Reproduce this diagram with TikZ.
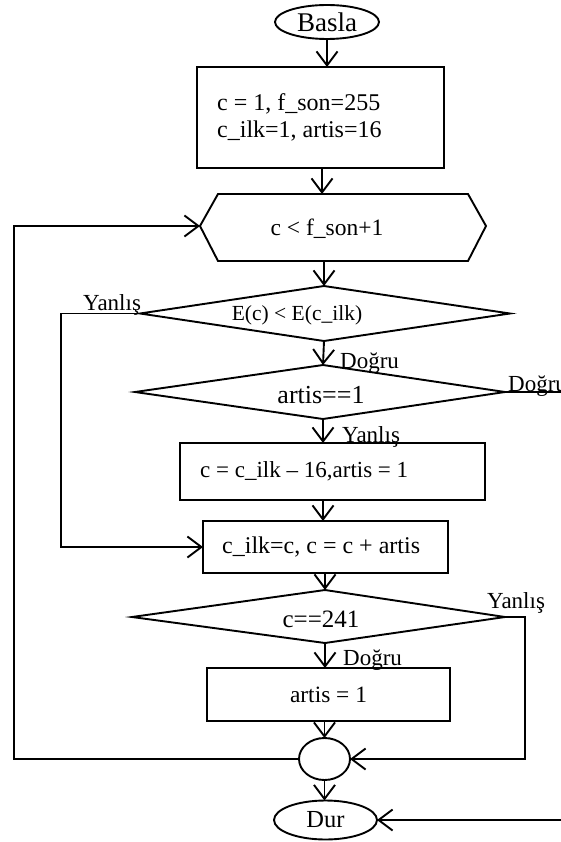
\documentclass[tikz,border=0pt]{standalone}
\usepackage{fontspec}
\setmainfont{Liberation Serif}
\usetikzlibrary{arrows.meta,shapes.geometric}
\begin{document}
\begin{tikzpicture}[x=1pt,y=-1pt,
  ln/.style={line width=1.9pt},
  arr/.style={ln,-{Straight Barb[length=14pt,width=21pt,line width=1.9pt]}},
  box/.style={draw,ln,rectangle,inner sep=0pt,outer sep=0pt},
  oval/.style={draw,ln,ellipse,inner sep=0pt,outer sep=0pt},
  txt/.style={inner sep=0pt},
  lbl/.style={inner sep=0pt,anchor=base west,font=\fontsize{23}{27}\selectfont},
  fs/.style={font=\fontsize{#1}{27}\selectfont}
]
\useasboundingbox (0,0) rectangle (561,842);

% start
\node[oval,minimum width=104pt,minimum height=34pt,fs=27] (start) at (327,22) {Basla};

% box 1
\node[box,minimum width=247pt,minimum height=101pt] (b1) at (320.5,117.5) {};
\node[txt,anchor=west,align=left,fs=24] (tb1) at ([xshift=20pt]b1.west)
  {c = 1, f\_son=255\\c\_ilk=1, artis=16};

% hexagon
\coordinate (hexW) at (200,226);
\coordinate (hexE) at (486,226);
\coordinate (hexN) at (322,194);
\coordinate (hexS) at (324,261);
\draw[ln,line join=miter] (hexW) -- (218,194) -- (468,194) -- (hexE) -- (468,261) -- (218,261) -- cycle;
\node[txt,fs=23.5] (thex) at (327,229) {c < f\_son+1};

% diamond 1
\coordinate (d1W) at (140,313.5);
\coordinate (d1N) at (324,286);
\coordinate (d1E) at (510,313.5);
\coordinate (d1S) at (324,341);
\draw[ln,line join=miter] (d1W) -- (d1N) -- (d1E) -- (d1S) -- cycle;
\node[txt,fs=21.5] (td1) at (297,315) {E(c) < E(c\_ilk)};

% diamond 2
\coordinate (d2W) at (135,392);
\coordinate (d2N) at (323,365);
\coordinate (d2E) at (505,392);
\coordinate (d2S) at (323,419);
\draw[ln,line join=miter] (d2W) -- (d2N) -- (d2E) -- (d2S) -- cycle;
\node[txt,fs=26] (td2) at (321,395) {artis==1};

% box 3
\node[box,minimum width=305pt,minimum height=57pt] (b3) at (332.5,471.5) {};
\node[txt,anchor=west,fs=23] (tb3) at ([xshift=20pt]b3.west) {c = c\_ilk \textendash{} 16,artis = 1};

% box 4
\node[box,minimum width=245pt,minimum height=52pt] (b4) at (325.5,547) {};
\node[txt,anchor=west,fs=24] (tb4) at ([xshift=19pt]b4.west) {c\_ilk=c, c = c + artis};

% diamond 3
\coordinate (d3W) at (132,617);
\coordinate (d3N) at (325,590);
\coordinate (d3E) at (505,617);
\coordinate (d3S) at (325,643);
\draw[ln,line join=miter] (d3W) -- (d3N) -- (d3E) -- (d3S) -- cycle;
\node[txt,fs=25] (td3) at (321,619) {c==241};

% box 5
\node[box,minimum width=243pt,minimum height=53pt,fs=23.4] (b5) at (328.5,694.5) {artis = 1};

% merge circle
\node[oval,minimum width=51pt,minimum height=42pt] (m) at (324.5,759) {};

% end
\node[oval,minimum width=103pt,minimum height=39pt,fs=24.5] (end) at (325.5,820) {Dur};

% labels
\node[lbl] (l1) at (83,310) {Yanlış};
\node[lbl] (l2) at (340,368) {Doğru};
\node[lbl] (l3) at (508,391) {Doğru};
\node[lbl] (l4) at (342,442) {Yanlış};
\node[lbl] (l5) at (487,608) {Yanlış};
\node[lbl] (l6) at (343,665) {Doğru};

% helper coordinates
\coordinate (kL) at (14,500);
\coordinate (kY) at (61,400);
\coordinate (kR) at (525,700);
\coordinate (rOut) at (561,392);
\coordinate (rIn) at (561,820);

% connectors
\draw[arr] (start.south) -- (start.south |- b1.north);
\draw[arr] (b1.south -| hexN) -- (hexN);
\draw[arr] (hexS) -- (d1N);
\draw[arr] (d1S) -- (d2N);
\draw[arr] (d2S) -- (d2S |- b3.north);
\draw[arr] (b3.south -| d2S) -- (b4.north -| d2S);
\draw[arr] (b4.south -| d3N) -- (d3N);
\draw[arr] (d3S) -- (d3S |- b5.north);
\draw[arr] (b5.south -| m.north) -- (m.north);
\draw[arr] (m.south) -- (m.south |- end.north);
\draw[arr] (rIn) -- (end.east);
\draw[ln] (d2E) -- (rOut);
\draw[arr] (d1W) -| (kY) |- (b4.west);
\draw[arr] (m.west) -| (kL) |- (hexW);
\draw[arr] (d3E) -| (kR) |- (m.east);
\end{tikzpicture}
\end{document}
